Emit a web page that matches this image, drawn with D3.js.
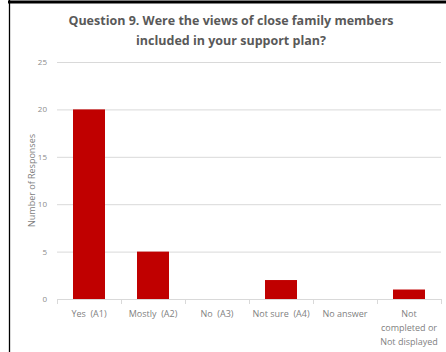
<!DOCTYPE html>
<html>
<head>
<meta charset="utf-8">
<script src="https://cdn.jsdelivr.net/npm/d3@7"></script>
<style>
  html, body { margin: 0; padding: 0; background: #fff; }
  svg { display: block; }
  text { white-space: pre; }
</style>
</head>
<body>
<div id="chart"></div>
<script>
// Dados do gráfico
const categorias = ["Yes  (A1)", "Mostly  (A2)", "No  (A3)", "Not sure  (A4)", "No answer", "Not completed or Not displayed"];
const rotulos = [["Yes  (A1)"], ["Mostly  (A2)"], ["No  (A3)"], ["Not sure  (A4)"], ["No answer"], ["Not", "completed or", "Not displayed"]];
const respostas = [20, 5, 0, 2, 0, 1];
const ticksY = [0, 5, 10, 15, 20, 25];
const titulo = ["Question 9. Were the views of close family members", "included in your support plan?"];

function desenharGrafico() {
    const largura = 446, altura = 352;
    const margin = { top: 62, right: 5, bottom: 53, left: 57 };
    const width = largura - margin.left - margin.right;
    const height = altura - margin.top - margin.bottom;

    const svg = d3.select("#chart").append("svg")
        .attr("width", largura)
        .attr("height", altura);

    // Moldura (borda preta)
    svg.append("line").attr("x1", 8).attr("x2", largura).attr("y1", 2).attr("y2", 2)
        .attr("stroke", "#000").attr("stroke-width", 3);
    svg.append("line").attr("x1", 9.5).attr("x2", 9.5).attr("y1", 0).attr("y2", altura)
        .attr("stroke", "#000").attr("stroke-width", 1.3);

    const g = svg.append("g").attr("transform", `translate(${margin.left},${margin.top})`);

    const x = d3.scaleBand().domain(categorias).range([0, width]).paddingInner(0.5).paddingOuter(0.25);
    const y = d3.scaleLinear().domain([0, 25]).range([height, 0]);

    // Linhas de grade
    g.selectAll(".grade").data(ticksY.filter(d => d > 0)).enter().append("line")
        .attr("x1", 0).attr("x2", width)
        .attr("y1", d => y(d) + 0.5).attr("y2", d => y(d) + 0.5)
        .attr("stroke", "#d9d9d9").attr("stroke-width", 1);

    // Eixo Y (apenas rótulos)
    const eixoY = g.append("g").call(d3.axisLeft(y).tickValues(ticksY).tickSize(0).tickPadding(10));
    eixoY.select(".domain").remove();
    eixoY.selectAll("text").attr("fill", "#8c8c8c").style("font-family", "'Open Sans', sans-serif").style("font-size", "8px");

    // Barras
    g.selectAll(".barra").data(respostas).enter().append("rect")
        .attr("x", (d, i) => x(categorias[i]))
        .attr("y", d => y(d))
        .attr("width", x.bandwidth())
        .attr("height", d => height - y(d))
        .attr("fill", "#c00000");

    // Eixo X
    g.append("line").attr("x1", 0).attr("x2", width).attr("y1", height + 0.5).attr("y2", height + 0.5)
        .attr("stroke", "#d9d9d9");
    const passo = width / categorias.length;
    g.selectAll(".marca").data(d3.range(categorias.length + 1)).enter().append("line")
        .attr("x1", i => i * passo + 0.5).attr("x2", i => i * passo + 0.5)
        .attr("y1", height).attr("y2", height + 5)
        .attr("stroke", "#d9d9d9");

    // Rótulos das categorias
    categorias.forEach((c, i) => {
        const t = g.append("text")
            .attr("x", x(c) + x.bandwidth() / 2)
            .attr("y", height + 18)
            .attr("text-anchor", "middle")
            .attr("fill", "#7f7f7f")
            .style("font-family", "'Open Sans', sans-serif")
            .style("font-size", "9px");
        rotulos[i].forEach((linha, j) => {
            t.append("tspan").attr("x", x(c) + x.bandwidth() / 2).attr("dy", j === 0 ? 0 : 14).text(linha);
        });
    });

    // Título do eixo Y
    svg.append("text")
        .attr("transform", `translate(35,${margin.top + height / 2}) rotate(-90)`)
        .attr("text-anchor", "middle")
        .attr("fill", "#7f7f7f")
        .style("font-family", "'Open Sans', sans-serif")
        .style("font-size", "9px")
        .text("Number of Responses");

    // Título
    titulo.forEach((linha, j) => {
        svg.append("text")
            .attr("x", 231)
            .attr("y", 25 + j * 20)
            .attr("text-anchor", "middle")
            .attr("fill", "#595959")
            .style("font-family", "'Open Sans', sans-serif")
            .style("font-weight", "bold")
            .style("font-size", "12.5px")
            .text(linha);
    });
}

document.addEventListener('DOMContentLoaded', desenharGrafico);
</script>
</body>
</html>
